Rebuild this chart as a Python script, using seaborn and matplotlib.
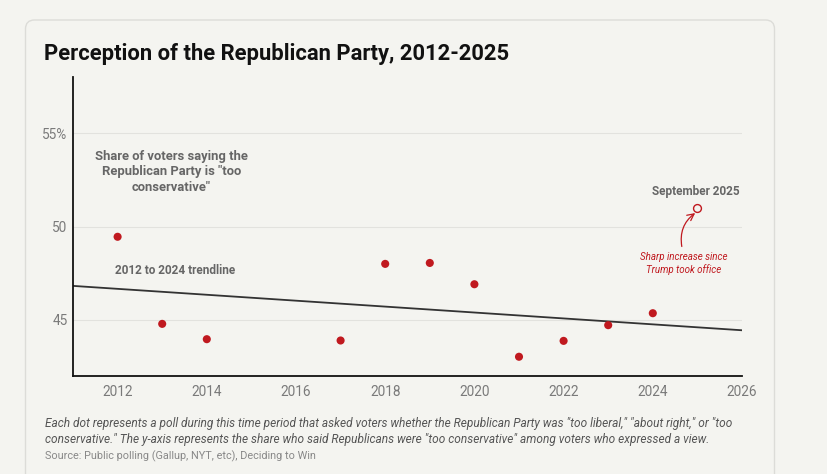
import numpy as np
import pandas as pd
import seaborn as sns
import matplotlib.pyplot as plt
from matplotlib.patches import FancyBboxPatch
from matplotlib.transforms import IdentityTransform

# ---- data ----
years = [2012, 2013, 2014, 2017, 2018, 2019, 2020, 2021, 2022, 2023, 2024]
share = [49.45, 44.79, 43.97, 43.90, 48.00, 48.05, 46.91, 43.03, 43.88, 44.72, 45.36]
latest_year = [2025]
latest_share = [51.0]
x_ticks = [2012, 2014, 2016, 2018, 2020, 2022, 2024, 2026]
y_ticks = [45, 50, 55]
y_tick_labels = ["45", "50", "55%"]

title = "Perception of the Republican Party, 2012-2025"
label_series = 'Share of voters saying the\nRepublican Party is "too\nconservative"'
label_trend = "2012 to 2024 trendline"
label_latest = "September 2025"
label_note = "Sharp increase since\nTrump took office"
foot1 = ('Each dot represents a poll during this time period that asked voters whether the Republican Party was "too liberal," "about right," or "too')
foot2 = ('conservative." The y-axis represents the share who said Republicans were "too conservative" among voters who expressed a view.')
source = "Source: Public polling (Gallup, NYT, etc), Deciding to Win"

df = pd.DataFrame({"year": years, "share": share})
df_latest = pd.DataFrame({"year": latest_year, "share": latest_share})

sns.set_theme(style="white")
plt.rcParams['font.family'] = ['Roboto', 'DejaVu Sans']

BG = '#f4f4f0'
RED = '#c0191f'
W, H = 828, 474

fig = plt.figure(figsize=(W / 100, H / 100), dpi=100, facecolor=BG)

card = FancyBboxPatch((25.5, -20), 749, H, boxstyle="round,pad=0,rounding_size=9",
                      transform=IdentityTransform(), fc=BG, ec='#dcdcd8', lw=1.0, zorder=-5)
fig.add_artist(card)

ax = fig.add_axes([73 / W, 1 - 376 / H, (742 - 73) / W, (376 - 77) / H])
ax.set_facecolor('none')
ax.set_xlim(2011, 2026)
ax.set_ylim(42, 58)

sns.regplot(data=df, x="year", y="share", scatter=False, ci=None, truncate=False, ax=ax,
            line_kws=dict(color='#333333', lw=1.3, zorder=2))
sns.scatterplot(data=df, x="year", y="share", color=RED, s=34, edgecolor='none', ax=ax, zorder=3)
sns.scatterplot(data=df_latest, x="year", y="share", facecolor=BG, edgecolor=RED, linewidth=1.0,
                s=32, ax=ax, zorder=3)

ax.set_xticks(x_ticks)
ax.set_xticklabels([str(t) for t in x_ticks])
ax.set_yticks(y_ticks)
ax.set_yticklabels(y_tick_labels)
ax.set_xlabel("")
ax.set_ylabel("")
ax.yaxis.grid(True, color='#e2e2de', lw=0.8)
ax.xaxis.grid(False)
ax.set_axisbelow(True)
for s in ['top', 'right']:
    ax.spines[s].set_visible(False)
for s in ['left', 'bottom']:
    ax.spines[s].set_color('#111111')
    ax.spines[s].set_linewidth(1.3)
ax.tick_params(axis='both', length=0, labelsize=9.8, labelcolor='#7a7a7a')
ax.tick_params(axis='y', pad=4)
ax.tick_params(axis='x', pad=6.5)

ax.text(2013.21, 52.93, label_series, ha='center', va='center', fontsize=9.4,
        fontweight='bold', color='#666666', linespacing=1.25)
ax.text(2013.28, 47.64, label_trend, ha='center', va='center', fontsize=8.5,
        fontweight='bold', color='#666666')
ax.text(2024.97, 51.86, label_latest, ha='center', va='center', fontsize=8.5,
        fontweight='bold', color='#666666')
ax.text(2024.70, 48.02, label_note, ha='center', va='center', fontsize=7,
        style='italic', color=RED, linespacing=1.3)
ax.annotate("", xy=(2024.95, 50.72), xytext=(2024.65, 48.93),
            arrowprops=dict(arrowstyle='->', color=RED, lw=0.9,
                            connectionstyle='arc3,rad=-0.3', shrinkA=0, shrinkB=0))

fig.text(44 / W, 1 - 54 / H, title, ha='left', va='center', fontsize=15.8,
         fontweight='bold', color='#111111')
fig.text(45 / W, 1 - 424 / H, foot1, ha='left', va='center', fontsize=8.6,
         style='italic', color='#555555')
fig.text(45 / W, 1 - 439 / H, foot2, ha='left', va='center', fontsize=8.6,
         style='italic', color='#555555')
fig.text(45 / W, 1 - 456 / H, source, ha='left', va='center', fontsize=7.8,
         color='#888888')

fig.savefig("out.png", dpi=100, facecolor=BG)
